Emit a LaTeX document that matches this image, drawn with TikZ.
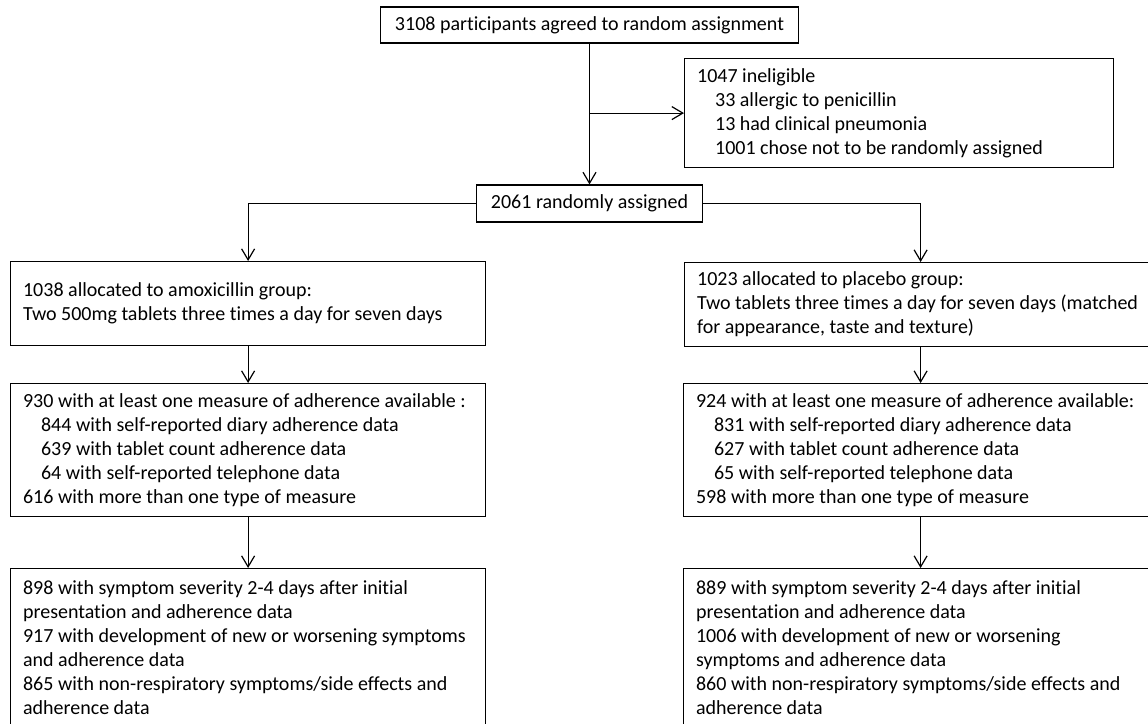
\documentclass[tikz,border=0pt]{standalone}
\usepackage{fontspec}
\setmainfont{Carlito}[Ligatures=NoCommon]
\usetikzlibrary{arrows.meta}
\tikzset{
  base/.style={draw=black, line width=1.2pt, font=\fontsize{20}{24}\selectfont, inner ysep=0pt},
  cbox/.style={base, align=center, inner xsep=0pt},
  lbox/.style 2 args={base, anchor=north west, align=flush left, inner xsep=12.5pt, text width=#1, minimum height=#2},
  arr/.style={draw=black, line width=1.2pt, -{Straight Barb[length=11pt,width=13pt]}},
}
\newcommand{\ind}{\hspace*{18pt}}
\newcommand{\li}[1]{\mbox{#1}}
\begin{document}
\begin{tikzpicture}[x=1pt,y=1pt]
\useasboundingbox (0,0) rectangle (1148,-723);
\clip (0,0) rectangle (1148,-723);
\node[cbox, minimum width=418pt, minimum height=36pt] (top) at (589.5,-25) {3108 participants agreed to random assignment};
\node[lbox={404pt}{109pt}] (inel) at (684,-58) {\li{1047 ineligible}\\
\li{\ind 33 allergic to penicillin}\\
\li{\ind 13 had clinical pneumonia}\\
\li{\ind 1001 chose not to be randomly assigned}};
\node[cbox, minimum width=226pt, minimum height=37pt] (rand) at (589.5,-203.5) {2061 randomly assigned};
\node[lbox={450pt}{84pt}] (amox) at (10,-261) {\li{1038 allocated to amoxicillin group:}\\
\li{Two 500mg tablets three times a day for seven days}};
\node[lbox={447pt}{84pt}] (plac) at (684,-262) {\li{1023 allocated to placebo group:}\\
\li{Two tablets three times a day for seven days (matched}\\
\li{for appearance, taste and texture)}};
\node[lbox={450pt}{133pt}] (adhL) at (10,-383) {\li{930 with at least one measure of adherence available :}\\
\li{\ind 844 with self-reported diary adherence data}\\
\li{\ind 639 with tablet count adherence data}\\
\li{\ind 64 with self-reported telephone data}\\
\li{616 with more than one type of measure}};
\node[lbox={449pt}{133pt}] (adhR) at (683,-383) {\li{924 with at least one measure of adherence available:}\\
\li{\ind 831 with self-reported diary adherence data}\\
\li{\ind 627 with tablet count adherence data}\\
\li{\ind 65 with self-reported telephone data}\\
\li{598 with more than one type of measure}};
\node[lbox={450pt}{159pt}] (botL) at (10,-568) {\li{898 with symptom severity 2-4 days after initial}\\
\li{presentation and adherence data}\\
\li{917 with development of new or worsening symptoms}\\
\li{and adherence data}\\
\li{865 with non-respiratory symptoms/side effects and}\\
\li{adherence data}};
\node[lbox={449pt}{159pt}] (botR) at (683,-568) {\li{889 with symptom severity 2-4 days after initial}\\
\li{presentation and adherence data}\\
\li{1006 with development of new or worsening}\\
\li{symptoms and adherence data}\\
\li{860 with non-respiratory symptoms/side effects and}\\
\li{adherence data}};
\draw[arr] (top.south) -- (rand.north);
\draw[arr] (top.south |- inel.west) -- (inel.west);
\draw[arr] (rand.west) -| (amox.north);
\draw[arr] (rand.east) -| (plac.north);
\draw[arr] (amox.south) -- (adhL.north);
\draw[arr] (plac.south) -- (adhR.north);
\draw[arr] (adhL.south) -- (botL.north);
\draw[arr] (adhR.south) -- (botR.north);
\end{tikzpicture}
\end{document}
